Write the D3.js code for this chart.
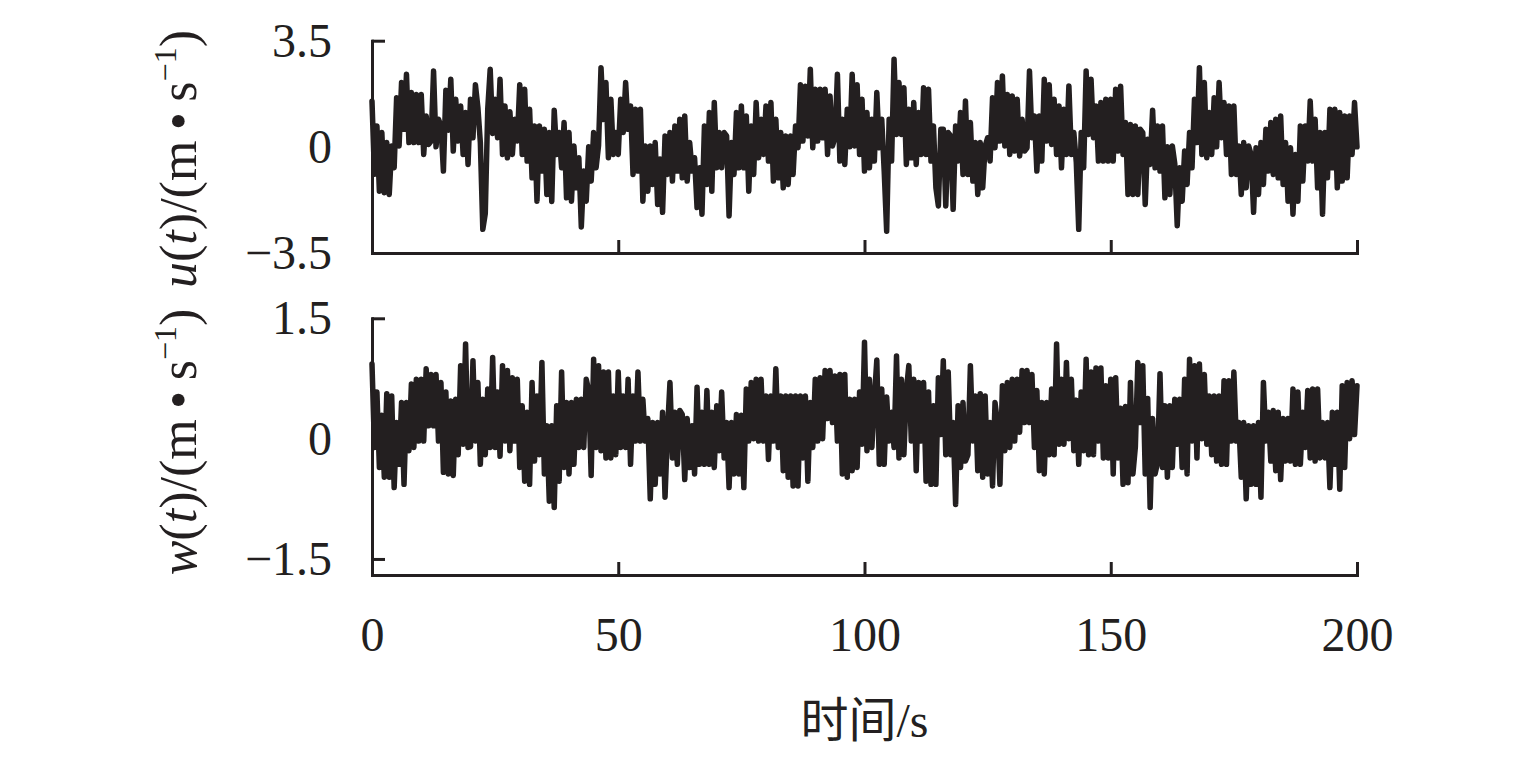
<!DOCTYPE html>
<html><head><meta charset="utf-8">
<script src="https://cdn.jsdelivr.net/npm/d3@7"></script>
<style>body{margin:0;background:#fff}</style>
</head><body>
<svg id="c" width="1535" height="768"></svg>
<script>
// sampling step of the series (s)
const timeStep = 0.5;
// u(t) values, m/s, t = 0 ... 200 s
const uValues = [
1.50,-0.90,0.69,-1.46,0.47,-1.51,0.14,-1.57,0.03,-0.69,1.62,0.03,2.12,0.58,2.39,0.14,1.79,0.14,1.73,0.14,
1.73,-0.25,1.02,0.08,0.19,2.50,0.00,0.91,0.69,-0.80,1.87,0.55,2.23,-0.14,1.57,0.19,1.35,-0.25,1.13,-0.58,
1.57,0.30,2.05,1.30,0.14,-2.72,-2.20,1.24,2.56,0.44,1.57,0.30,2.23,-0.25,1.35,-0.36,1.16,-0.25,0.91,0.19,
2.05,-0.25,1.90,-0.47,1.24,-1.02,0.69,-1.79,0.69,-0.80,0.58,-1.57,0.47,-1.80,1.21,-0.25,0.47,-0.69,0.80,-1.68,
0.47,-1.79,0.03,-1.35,-0.36,-2.64,-0.80,-1.79,0.00,-1.13,0.47,-0.69,0.05,2.61,0.90,2.12,-0.36,1.57,-0.25,0.47,
-0.25,1.57,0.47,2.12,0.58,1.35,-0.91,1.24,-0.80,1.24,-1.79,0.03,-1.46,0.03,-1.24,0.14,-1.90,-0.40,-2.16,0.36,
-0.91,0.47,-1.13,0.69,-0.80,0.91,-1.02,1.02,-1.13,0.14,-0.80,-0.36,-2.00,-0.69,-2.22,0.69,-1.24,1.13,-1.46,1.46,
-0.69,0.47,-0.69,0.47,0.36,-2.28,0.14,-0.91,1.13,-0.69,1.35,-0.69,1.02,-1.46,0.69,-0.91,1.46,-0.36,0.91,-0.25,
1.35,-0.47,1.46,-1.13,0.91,-1.02,0.47,-1.35,0.36,-1.24,0.36,-0.91,0.69,-0.03,2.05,0.19,2.00,0.36,2.56,-0.03,
1.90,0.19,1.90,0.30,1.90,-0.25,1.68,0.03,0.30,2.39,-0.47,0.91,-0.58,1.24,0.00,2.39,0.03,2.05,-0.25,1.57,
-0.80,1.13,-0.69,0.91,-0.47,1.79,-0.03,0.91,-0.80,-2.78,0.91,-0.47,2.89,0.41,2.12,0.41,1.95,-0.58,1.24,-0.36,
1.46,-0.58,1.13,-0.25,1.95,-0.25,1.90,-0.47,0.69,-1.35,-1.95,0.58,0.58,-1.95,0.47,0.36,-2.06,0.69,-0.47,1.13,
-0.91,1.51,-0.91,0.80,-1.13,0.14,-1.57,0.14,-1.35,0.03,0.30,-0.47,1.62,-0.03,2.12,0.19,2.34,0.03,1.73,-0.25,
1.68,-0.14,1.57,-0.30,0.91,-0.14,-0.03,2.50,0.30,1.02,-0.80,1.02,-0.47,2.23,0.19,2.05,0.08,1.57,-0.25,1.35,
-0.69,1.24,-0.25,2.01,-0.25,0.47,-0.50,-2.72,0.47,-0.69,2.50,0.41,2.23,0.30,1.35,-0.47,1.46,-0.47,1.57,-0.47,
1.57,-0.47,1.90,-0.14,2.00,-0.25,0.80,-1.57,0.74,-1.57,0.69,-1.57,0.58,0.47,-1.90,0.25,-0.58,1.21,-0.69,0.69,
-0.80,0.69,-1.68,0.00,-1.57,0.03,-0.55,-2.60,-0.69,-1.79,-0.14,-1.24,0.47,-0.69,1.57,0.14,2.61,-0.25,2.12,-0.36,
1.13,-0.25,1.62,0.00,2.12,0.30,1.46,-0.25,1.35,-0.91,1.35,-0.91,0.03,-1.57,0.14,-1.35,0.03,-0.25,-2.16,-0.03,
-1.57,0.14,-1.24,0.58,-0.80,0.80,-0.91,0.91,-1.02,1.02,-1.24,0.14,-1.79,-0.03,-2.22,-0.25,-1.79,0.69,-1.13,0.69,
-0.47,1.51,-0.47,0.91,-1.35,0.47,-2.22,0.47,-1.02,1.24,-0.69,1.24,-1.35,1.13,-1.13,1.02,-1.02,1.02,-0.25,1.46,
0.00];
// w(t) values, m/s, t = 0 ... 200 s
const wValues = [
0.93,-0.11,0.58,-0.36,0.29,-0.48,0.56,-0.48,0.53,-0.61,0.20,-0.32,0.45,-0.57,0.45,-0.15,0.68,-0.11,0.74,-0.03,
0.74,-0.03,0.87,0.16,0.80,0.16,0.80,-0.03,0.70,-0.42,0.58,-0.44,0.47,-0.46,0.49,-0.20,0.91,-0.07,1.18,-0.11,
-0.10,0.97,-0.03,0.70,-0.32,0.49,-0.20,0.62,-0.11,1.01,-0.11,0.58,-0.22,0.91,-0.03,0.85,-0.15,0.76,-0.03,0.74,
-0.36,0.41,-0.53,0.33,-0.57,0.70,-0.28,0.53,-0.20,0.95,-0.44,0.16,-0.78,0.16,-0.86,0.41,-0.53,0.83,-0.36,0.45,
-0.44,0.45,-0.32,0.49,-0.11,0.49,-0.11,0.74,0.60,-0.46,0.99,-0.11,0.91,-0.15,0.83,-0.24,0.83,-0.24,0.53,-0.20,
0.83,-0.11,0.53,-0.11,0.74,-0.32,0.53,-0.03,0.83,-0.03,0.49,-0.03,0.25,-0.75,0.20,-0.57,0.20,-0.44,0.33,-0.73,
0.10,0.70,-0.24,0.33,-0.32,0.35,0.30,-0.51,0.25,-0.36,0.16,-0.44,0.64,-0.32,0.33,-0.32,0.60,-0.32,0.33,-0.36,
0.41,-0.15,0.58,-0.24,0.20,-0.61,0.20,-0.44,0.30,-0.44,0.29,-0.61,0.62,-0.03,0.70,0.00,0.74,-0.03,0.74,-0.03,
0.53,-0.26,0.53,-0.03,0.87,-0.11,0.53,-0.40,0.53,-0.48,0.53,-0.59,0.53,-0.59,0.53,-0.24,0.53,-0.53,0.45,-0.11,
0.74,-0.03,0.76,0.00,0.85,0.25,0.85,0.20,0.78,-0.03,0.80,-0.44,0.80,-0.48,0.49,-0.40,0.49,-0.36,0.58,-0.07,
1.20,-0.15,0.74,-0.11,0.50,0.98,-0.32,0.62,-0.32,0.52,-0.03,0.33,-0.11,1.03,-0.24,0.74,-0.20,0.60,0.91,-0.03,
0.74,-0.40,0.70,-0.03,0.70,-0.53,0.58,-0.57,0.41,-0.57,0.76,0.05,0.97,-0.20,0.83,-0.20,0.20,-0.82,0.41,-0.36,
0.45,-0.28,-0.20,0.91,-0.03,0.53,-0.40,0.56,-0.48,0.53,-0.44,0.20,-0.59,0.45,0.20,-0.57,0.66,-0.15,0.70,-0.11,
0.74,-0.03,0.74,0.08,0.85,0.20,0.85,0.20,0.80,-0.11,0.60,-0.40,0.45,-0.44,0.45,-0.20,0.62,-0.20,1.18,-0.07,
0.74,-0.07,0.95,0.00,0.74,-0.15,0.48,-0.32,0.58,-0.15,0.99,-0.20,0.83,-0.20,0.88,-0.03,0.88,-0.24,0.66,-0.24,
0.74,-0.44,0.76,-0.24,0.38,-0.57,0.40,-0.55,0.70,-0.44,-0.10,0.95,0.20,0.91,-0.44,0.50,-0.86,0.25,-0.44,-0.30,
0.81,-0.36,0.41,-0.48,0.41,-0.36,0.49,-0.07,0.49,-0.36,0.74,-0.44,0.99,-0.03,0.91,-0.24,0.93,0.00,0.80,-0.07,
0.53,-0.20,0.53,-0.28,0.53,-0.32,0.72,-0.32,0.72,-0.03,0.83,-0.03,0.20,-0.48,0.20,-0.75,0.16,-0.57,0.16,-0.57,
0.20,-0.73,0.70,-0.03,0.33,-0.28,0.35,-0.40,0.33,-0.51,0.25,-0.28,0.25,-0.28,0.62,-0.32,0.58,-0.32,0.33,-0.11,
0.60,-0.24,0.62,-0.28,0.62,-0.24,0.20,-0.24,0.20,-0.61,0.33,-0.32,0.33,-0.63,0.66,-0.36,0.70,0.00,0.72,0.05,
0.66];
const xTicks = [0, 50, 100, 150, 200];
const uTicks = [-3.5, 0, 3.5];
const wTicks = [-1.5, 0, 1.5];
const xTitleCJK = "时间";
const xTitleUnit = "/s";

const ink = "#231f20";
const serif = "'Liberation Serif','Times New Roman',serif";
const svg = d3.select("#c");
svg.append("rect").attr("width", 1535).attr("height", 768).attr("fill", "#fff");

const x = d3.scaleLinear().domain([0, 200]).range([372, 1357]);

const panels = [
  {values: uValues, domain: [-3.5, 3.5], range: [253, 40.7], ticks: uTicks, sym: "u", showX: false, labelY: 159},
  {values: wValues, domain: [-1.7, 1.5], range: [575, 318.3], ticks: wTicks, sym: "w", showX: true, labelY: 442}
];

const fmtY = d => d === 0 ? "0" : d3.format(".1f")(d);

panels.forEach(p => {
  const y = d3.scaleLinear().domain(p.domain).range(p.range);
  const g = svg.append("g");

  const yAxis = d3.axisLeft(y).tickValues(p.ticks).tickSizeInner(-13).tickSizeOuter(0)
    .tickPadding(40).tickFormat(fmtY);
  const ya = g.append("g").attr("transform", `translate(${x(0)},0)`).call(yAxis);

  const xAxis = d3.axisBottom(x).tickValues(xTicks).tickSizeInner(-13).tickSizeOuter(0)
    .tickPadding(42).tickFormat(p.showX ? d3.format("d") : () => "");
  const xa = g.append("g").attr("transform", `translate(0,${p.range[0]})`).call(xAxis);

  [ya, xa].forEach(a => {
    a.attr("font-family", serif).attr("font-size", 48);
    a.selectAll(".domain").attr("stroke", ink).attr("stroke-width", 3).attr("stroke-linecap", "square");
    a.selectAll(".tick line").attr("stroke", ink).attr("stroke-width", 3);
    a.selectAll(".tick text").attr("fill", ink);
  });

  const line = d3.line().x((d, i) => x(i * timeStep)).y(d => y(d));
  g.append("path").datum(p.values).attr("d", line)
    .attr("fill", "none").attr("stroke", ink).attr("stroke-width", 5.5)
    .attr("stroke-linejoin", "round").attr("stroke-linecap", "round");

  const t = g.append("text")
    .attr("transform", `translate(196,${p.labelY}) rotate(-90)`)
    .attr("text-anchor", "middle").attr("font-family", serif).attr("font-size", 52).attr("fill", ink);
  t.append("tspan").attr("font-style", "italic").text(p.sym);
  t.append("tspan").text("(");
  t.append("tspan").attr("font-style", "italic").text("t");
  t.append("tspan").text(")/(m\u2009\u2022\u2009s");
  t.append("tspan").attr("font-size", 32).attr("dy", -20).text("\u22121");
  t.append("tspan").attr("dy", 20).text(")");
});

const title = svg.append("text").attr("x", (x(0) + x(200)) / 2).attr("y", 737)
  .attr("text-anchor", "middle").attr("font-size", 48).attr("fill", ink);
title.append("tspan").attr("font-family", "'Noto Sans CJK SC',sans-serif").text(xTitleCJK);
title.append("tspan").attr("font-family", serif).text(xTitleUnit);
</script>
</body></html>
